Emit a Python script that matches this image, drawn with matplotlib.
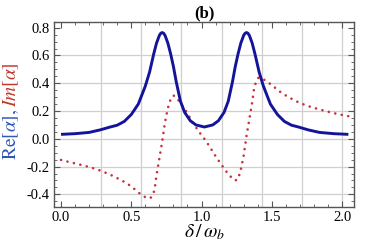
import matplotlib
matplotlib.use("Agg")
import matplotlib.pyplot as plt
from matplotlib.ticker import MultipleLocator, FixedLocator

# ---- data ----
re_x = [0.00, 0.10, 0.20, 0.278, 0.35, 0.40, 0.45, 0.50, 0.55, 0.60, 0.63, 0.66, 0.68,
        0.70, 0.71, 0.72, 0.73, 0.74, 0.76, 0.78, 0.80, 0.82, 0.85, 0.88, 0.92, 0.96,
        1.02, 1.08, 1.12, 1.16, 1.19, 1.22, 1.24, 1.26, 1.28, 1.30, 1.31, 1.32, 1.33,
        1.34, 1.36, 1.38, 1.41, 1.44, 1.49, 1.54, 1.59, 1.64, 1.69, 1.76, 1.84, 1.94, 2.045]
re_y = [0.032, 0.037, 0.046, 0.064, 0.085, 0.098, 0.125, 0.175, 0.25, 0.38, 0.48, 0.612, 0.69,
        0.745, 0.76, 0.765, 0.76, 0.745, 0.69, 0.612, 0.52, 0.41, 0.27, 0.19, 0.13, 0.10,
        0.085, 0.10, 0.13, 0.19, 0.27, 0.41, 0.52, 0.612, 0.69, 0.745, 0.76, 0.765, 0.76,
        0.745, 0.69, 0.612, 0.48, 0.38, 0.25, 0.175, 0.125, 0.098, 0.085, 0.064, 0.046,
        0.037, 0.032]

im_x = [0.00, 0.05, 0.10, 0.15, 0.20, 0.25, 0.30, 0.35, 0.40, 0.45, 0.50, 0.55, 0.58,
        0.61, 0.635, 0.65, 0.665, 0.68, 0.70, 0.72, 0.74, 0.76, 0.78, 0.80, 0.82, 0.85,
        0.90, 0.94, 0.99, 1.02, 1.05, 1.10, 1.14, 1.19, 1.22, 1.24, 1.26, 1.28, 1.30,
        1.32, 1.34, 1.36, 1.375, 1.39, 1.405, 1.43, 1.47, 1.52, 1.57, 1.62, 1.67, 1.72,
        1.77, 1.82, 1.87, 1.92, 1.97, 2.045]
im_y = [-0.152, -0.165, -0.177, -0.19, -0.203, -0.218, -0.237, -0.258, -0.283, -0.31,
        -0.342, -0.385, -0.41, -0.425, -0.428, -0.41, -0.37, -0.26, -0.14, -0.02, 0.12,
        0.22, 0.285, 0.312, 0.30, 0.255, 0.184, 0.112, 0.04, 0.0, -0.044, -0.125, -0.184,
        -0.255, -0.285, -0.30, -0.29, -0.22, -0.12, 0.02, 0.14, 0.26, 0.37, 0.415, 0.44,
        0.435, 0.41, 0.37, 0.33, 0.30, 0.272, 0.25, 0.232, 0.217, 0.203, 0.19, 0.178, 0.163]

x_ticks = [0.0, 0.5, 1.0, 1.5, 2.0]
x_ticklabels = ["0.0", "0.5", "1.0", "1.5", "2.0"]
y_ticks = [-0.4, -0.2, 0.0, 0.2, 0.4, 0.6, 0.8]
y_ticklabels = ["-0.4", "-0.2", "0.0", "0.2", "0.4", "0.6", "0.8"]
x_grid = [2 / 7 * k for k in range(1, 8)]
y_grid = [-0.4, -0.2, 0.0, 0.2, 0.4, 0.6]

plt.rcParams['font.family'] = ['Liberation Serif', 'DejaVu Serif']
plt.rcParams['mathtext.fontset'] = 'stix'

W, H = 365, 247
fig = plt.figure(figsize=(W / 100, H / 100), dpi=100)
ax = fig.add_axes([54 / W, 40 / H, 300 / W, 185 / H])

for gx in x_grid:
    ax.axvline(gx, color='#cfcfcf', lw=0.9, zorder=0)
for gy in y_grid:
    ax.axhline(gy, color='#cfcfcf', lw=0.9, zorder=0)

ax.plot(re_x, re_y, color='#14149a', lw=2.1, solid_capstyle='butt', zorder=3)
ax.plot(im_x, im_y, color='#c8303c', lw=1.9, linestyle=(0, (0.01, 2.5)),
        dash_capstyle='round', zorder=2)

ax.set_xlim(-0.05, 2.085)
ax.set_ylim(-0.491, 0.841)

ax.xaxis.set_major_locator(FixedLocator(x_ticks))
ax.set_xticklabels(x_ticklabels)
ax.xaxis.set_minor_locator(MultipleLocator(0.1))
ax.yaxis.set_major_locator(FixedLocator(y_ticks))
ax.set_yticklabels(y_ticklabels)
ax.yaxis.set_minor_locator(MultipleLocator(0.05))

ax.tick_params(which='both', direction='in', top=True, right=True, color='#555555',
               labelsize=10.5, labelcolor='black')
ax.tick_params(which='major', length=4, width=0.8, pad=3)
ax.tick_params(which='minor', length=2.2, width=0.6)
for s in ax.spines.values():
    s.set_color('#555555')
    s.set_linewidth(1.0)

ax.set_title('(b)', fontsize=12, fontweight='bold', pad=3)
ax.set_xlabel(r'$\delta\,/\,\omega_b$', fontsize=14, labelpad=-1)

# two-coloured vertical y label
x_lab = 11 / W
t1 = fig.text(x_lab, (H - 160) / H, r'$\mathrm{Re}[\alpha],$', color='#2e55b8',
              fontsize=14, rotation=90, ha='center', va='bottom')
fig.canvas.draw()
bb = t1.get_window_extent(renderer=fig.canvas.get_renderer())
y2 = bb.y1 / fig.bbox.height + 2 / H
fig.text(x_lab, y2, r'$Im[\alpha]$', color='#c0392b', fontsize=14,
         rotation=90, ha='center', va='bottom')

fig.savefig('out.png', dpi=100)
